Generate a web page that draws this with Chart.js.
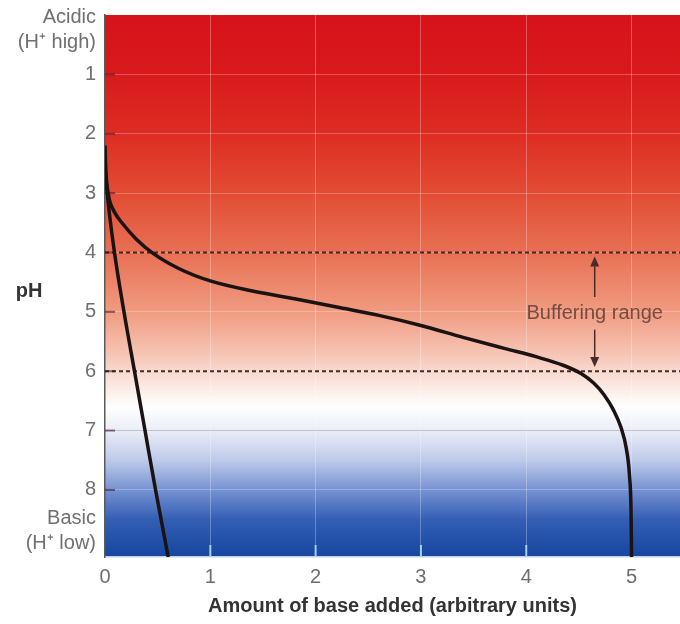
<!DOCTYPE html>
<html lang="en">
<head>
  <meta charset="UTF-8">
  <title>Buffering range</title>
  <style>
    body {
      margin: 0;
      background: #fff;
    }
    canvas {
      display: block;
    }
  </style>
</head>
<body>
  <canvas id="chart" width="680" height="624"></canvas>

  <script src="https://cdn.jsdelivr.net/npm/chart.js"></script>
  <script>
    // axis ticks
    const xTicks = [0, 1, 2, 3, 4, 5];
    const xMax = 5.46;
    const phTicks = [0.25, 1, 2, 3, 4, 5, 6, 7, 8, 8.7];
    const phTickLabels = [['Acidic', '(H⁺ high)'], '1', '2', '3', '4', '5', '6', '7', '8', ['Basic', '(H⁺ low)']];
    const phMax = 9.13;

    // buffered solution
    const bufferedX = [0, 0.005, 0.015, 0.04, 0.09, 0.17, 0.3, 0.46, 0.7, 1.0, 1.4, 1.8, 2.2, 2.6, 3.0, 3.4, 3.8, 4.1, 4.35, 4.52, 4.64, 4.74, 4.83, 4.9, 4.95, 4.98, 4.995, 5.0];
    const bufferedPH = [2.2, 2.5, 2.8, 3.1, 3.32, 3.52, 3.78, 4.02, 4.27, 4.48, 4.65, 4.78, 4.92, 5.06, 5.23, 5.43, 5.62, 5.76, 5.9, 6.04, 6.2, 6.4, 6.66, 6.95, 7.3, 7.75, 8.35, 9.13];

    // unbuffered solution
    const unbufferedX = [0, 0.03, 0.09, 0.18, 0.28, 0.38, 0.48, 0.6];
    const unbufferedPH = [2.6, 3.16, 4.0, 5.0, 6.0, 7.0, 8.0, 9.13];

    // buffering range limits
    const bufferLimits = [4, 6];
    const bufferLabel = 'Buffering range';
    const bufferLabelAt = { x: 4.65, y: 5.02 };

    const FONT = "'Liberation Sans', Arial, sans-serif";
    Chart.defaults.font.family = FONT;

    function points(xs, ys) {
      return xs.map((x, i) => ({ x: x, y: ys[i] }));
    }

    const backgroundPlugin = {
      id: 'phBackground',
      beforeDraw(chart) {
        const { ctx, chartArea } = chart;
        const y = chart.scales.y;
        const g = ctx.createLinearGradient(0, y.getPixelForValue(0), 0, y.getPixelForValue(phMax));
        const stops = [
          [0, 'rgb(214,18,26)'], [1, 'rgb(216,26,28)'], [2, 'rgb(221,45,35)'],
          [3, 'rgb(226,76,52)'], [4, 'rgb(232,112,84)'], [5, 'rgb(240,155,128)'],
          [5.7, 'rgb(246,196,180)'], [6.3, 'rgb(252,236,230)'], [6.6, 'rgb(255,255,255)'],
          [7.0, 'rgb(234,237,247)'], [7.5, 'rgb(190,202,233)'], [8.0, 'rgb(118,146,210)'],
          [8.5, 'rgb(52,94,180)'], [phMax, 'rgb(22,70,160)']
        ];
        stops.forEach(s => g.addColorStop(s[0] / phMax, s[1]));
        ctx.save();
        ctx.fillStyle = g;
        ctx.fillRect(chartArea.left, chartArea.top, chartArea.right - chartArea.left, chartArea.bottom - chartArea.top);
        ctx.restore();
      },
      beforeDatasetsDraw(chart) {
        const { ctx, chartArea } = chart;
        const x = chart.scales.x, y = chart.scales.y;
        ctx.save();
        // small tick marks inside the plot
        ctx.lineWidth = 2;
        ctx.strokeStyle = 'rgba(70,25,40,0.6)';
        phTicks.filter(v => Number.isInteger(v)).forEach(v => {
          const py = y.getPixelForValue(v);
          ctx.beginPath();
          ctx.moveTo(chartArea.left, py);
          ctx.lineTo(chartArea.left + 10, py);
          ctx.stroke();
        });
        ctx.strokeStyle = '#a8ccf4';
        xTicks.filter(v => v > 0).forEach(v => {
          const px = x.getPixelForValue(v);
          ctx.beginPath();
          ctx.moveTo(px, chartArea.bottom);
          ctx.lineTo(px, chartArea.bottom - 12);
          ctx.stroke();
        });
        ctx.restore();
      },
      afterDraw(chart) {
        const { ctx } = chart;
        const x = chart.scales.x, y = chart.scales.y;
        ctx.save();
        // pH axis label (horizontal)
        ctx.font = 'bold 20px ' + FONT;
        ctx.fillStyle = '#333';
        ctx.textAlign = 'center';
        ctx.textBaseline = 'alphabetic';
        ctx.fillText('pH', 29, 297);

        // buffering range label and arrows
        const ax = x.getPixelForValue(bufferLabelAt.x);
        ctx.font = '20px ' + FONT;
        ctx.fillStyle = 'rgba(95,60,52,0.85)';
        ctx.textBaseline = 'middle';
        ctx.fillText(bufferLabel, ax, y.getPixelForValue(bufferLabelAt.y));

        ctx.strokeStyle = '#4a2b26';
        ctx.fillStyle = '#4a2b26';
        ctx.lineWidth = 1.5;
        function arrow(fromPH, toPH) {
          const y0 = y.getPixelForValue(fromPH), y1 = y.getPixelForValue(toPH);
          const dir = y1 > y0 ? 1 : -1;
          ctx.beginPath();
          ctx.moveTo(ax, y0);
          ctx.lineTo(ax, y1 - dir * 8);
          ctx.stroke();
          ctx.beginPath();
          ctx.moveTo(ax, y1);
          ctx.lineTo(ax - 4.5, y1 - dir * 10);
          ctx.lineTo(ax + 4.5, y1 - dir * 10);
          ctx.closePath();
          ctx.fill();
        }
        arrow(4.75, bufferLimits[0] + 0.07);
        arrow(5.3, bufferLimits[1] - 0.07);
        ctx.restore();
      }
    };

    const dashed = v => ({
      data: [{ x: 0, y: v }, { x: xMax, y: v }],
      showLine: true,
      borderColor: 'rgba(45,25,25,0.9)',
      borderWidth: 2,
      borderDash: [4, 3],
      pointRadius: 0
    });

    new Chart(document.getElementById('chart'), {
      type: 'scatter',
      data: {
        datasets: [
          {
            data: points(bufferedX, bufferedPH),
            showLine: true,
            borderColor: '#1b1212',
            borderWidth: 3.5,
            pointRadius: 0,
            cubicInterpolationMode: 'monotone'
          },
          {
            data: points(unbufferedX, unbufferedPH),
            showLine: true,
            borderColor: '#1b1212',
            borderWidth: 3.5,
            pointRadius: 0,
            cubicInterpolationMode: 'monotone'
          },
          dashed(bufferLimits[0]),
          dashed(bufferLimits[1])
        ]
      },
      options: {
        responsive: false,
        animation: false,
        layout: { padding: { top: 15, right: 0, left: 0, bottom: 0 } },
        plugins: {
          legend: { display: false },
          tooltip: { enabled: false }
        },
        scales: {
          x: {
            type: 'linear',
            min: 0,
            max: xMax,
            afterBuildTicks: s => { s.ticks = xTicks.map(v => ({ value: v })); },
            ticks: {
              color: '#6e6e6e',
              font: { size: 20 },
              padding: 8,
              maxRotation: 0
            },
            grid: {
              drawTicks: false,
              color: c => (c.tick && c.tick.value > 0) ? 'rgba(255,255,255,0.28)' : 'transparent'
            },
            border: { color: '#c4d0e4', width: 1.5 },
            title: {
              display: true,
              text: 'Amount of base added (arbitrary units)',
              color: '#333',
              font: { size: 20, weight: 'bold' },
              padding: { top: 0, bottom: 6 }
            },
            afterFit: s => { s.height = 67; s.paddingLeft = 0; s.paddingRight = 0; }
          },
          y: {
            type: 'linear',
            reverse: true,
            min: 0,
            max: phMax,
            afterBuildTicks: s => { s.ticks = phTicks.map(v => ({ value: v })); },
            ticks: {
              color: '#707070',
              font: { size: 20, lineHeight: 1.25 },
              padding: 9,
              callback: (v, i) => phTickLabels[i]
            },
            grid: {
              drawTicks: false,
              color: c => {
                const v = c.tick ? c.tick.value : 0;
                if (!Number.isInteger(v)) return 'transparent';
                return v === 7 ? 'rgba(165,165,180,0.6)' : 'rgba(255,255,255,0.25)';
              }
            },
            border: { color: '#5a5a5a', width: 1.5 },
            afterFit: s => { s.width = 105; s.paddingTop = 0; s.paddingBottom = 0; }
          }
        }
      },
      plugins: [backgroundPlugin]
    });
  </script>
</body>
</html>
